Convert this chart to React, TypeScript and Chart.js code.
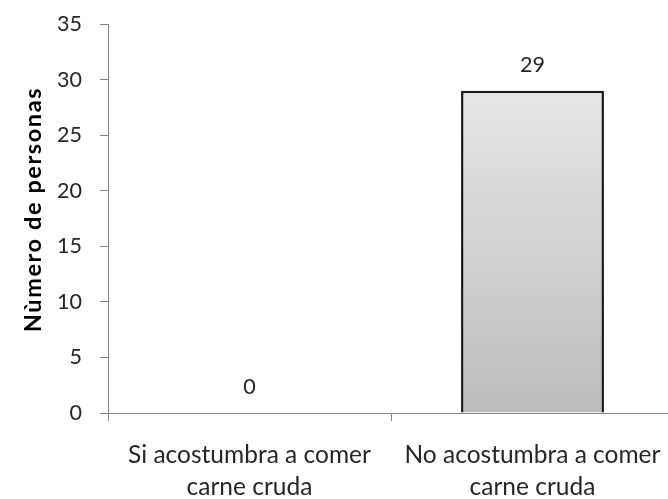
import React, { useEffect, useRef } from "react";
import { Chart, registerables } from "chart.js";

Chart.register(...registerables);

const categories: string[][] = [
  ["Si acostumbra a comer", "carne cruda"],
  ["No acostumbra a comer", "carne cruda"],
];
const personas: number[] = [0, 29];
const yTicks = { min: 0, max: 35, step: 5 };
const yTitle = "Nùmero de personas";

const FONT = "Lato, 'Liberation Sans', sans-serif";

// Numbers printed above each bar
const valueLabels = {
  id: "valueLabels",
  afterDatasetsDraw(chart: any) {
    const { ctx } = chart;
    const meta = chart.getDatasetMeta(0);
    ctx.save();
    ctx.font = `21.5px ${FONT}`;
    ctx.fillStyle = "#262626";
    ctx.textAlign = "center";
    ctx.textBaseline = "middle";
    meta.data.forEach((bar: any, i: number) => {
      ctx.fillText(String(personas[i]), bar.x, bar.y - 26);
    });
    ctx.restore();
  },
};

// Rotated y-axis title, drawn with a little letter spacing
const yAxisTitle = {
  id: "yAxisTitle",
  afterDraw(chart: any) {
    const { ctx, chartArea } = chart;
    ctx.save();
    ctx.translate(33, (chartArea.top + chartArea.bottom) / 2 - 9);
    ctx.rotate(-Math.PI / 2);
    ctx.font = `bold 23.5px ${FONT}`;
    (ctx as any).letterSpacing = "1.6px";
    ctx.fillStyle = "#000000";
    ctx.textAlign = "center";
    ctx.textBaseline = "middle";
    ctx.fillText(yTitle, 0, 0);
    ctx.restore();
  },
};

export default function App() {
  const ref = useRef<HTMLCanvasElement>(null);

  useEffect(() => {
    const canvas = ref.current!;
    const ctx = canvas.getContext("2d")!;
    const chart = new Chart(canvas, {
      type: "bar",
      data: {
        labels: categories,
        datasets: [
          {
            data: personas,
            backgroundColor: (c: any) => {
              const area = c.chart.chartArea;
              if (!area) return "#d4d4d4";
              const g = ctx.createLinearGradient(0, area.top, 0, area.bottom);
              g.addColorStop(0, "#efefef");
              g.addColorStop(1, "#bcbcbc");
              return g;
            },
            borderColor: "#1a1a1a",
            borderWidth: 2.5,
            borderSkipped: "bottom",
            barPercentage: 0.505,
            categoryPercentage: 1,
          },
        ],
      },
      options: {
        animation: false,
        responsive: false,
        maintainAspectRatio: false,
        layout: { padding: { left: 27, top: 24, right: 6, bottom: 0 } },
        plugins: {
          legend: { display: false },
          tooltip: { enabled: false },
        },
        scales: {
          x: {
            offset: true,
            grid: {
              offset: true,
              drawOnChartArea: false,
              drawTicks: true,
              tickLength: 8,
              color: "#868686",
            },
            border: { color: "#868686", width: 1 },
            ticks: {
              color: "#262626",
              font: { family: FONT, size: 24.5, lineHeight: "32px" },
              padding: 18,
              maxRotation: 0,
              autoSkip: false,
            },
            afterFit: (s: any) => {
              s.height = 86;
              s.paddingLeft = 0;
              s.paddingRight = 0;
              s.paddingTop = 0;
              s.paddingBottom = 0;
            },
          },
          y: {
            min: yTicks.min,
            max: yTicks.max,
            grid: {
              drawOnChartArea: false,
              tickLength: 8,
              color: "#868686",
            },
            border: { color: "#868686", width: 1 },
            ticks: {
              stepSize: yTicks.step,
              color: "#262626",
              font: { family: FONT, size: 21.5 },
              padding: 18,
            },
            afterFit: (s: any) => {
              s.width = 81;
              s.paddingTop = 0;
              s.paddingBottom = 0;
            },
          },
        },
      },
      plugins: [valueLabels, yAxisTitle],
    });
    return () => chart.destroy();
  }, []);

  return (
    <div
      style={{
        position: "fixed",
        left: 0,
        top: 0,
        width: 668,
        height: 499,
        overflow: "hidden",
        background: "#ffffff",
      }}
    >
      <canvas ref={ref} width={680} height={499} style={{ display: "block" }} />
    </div>
  );
}
